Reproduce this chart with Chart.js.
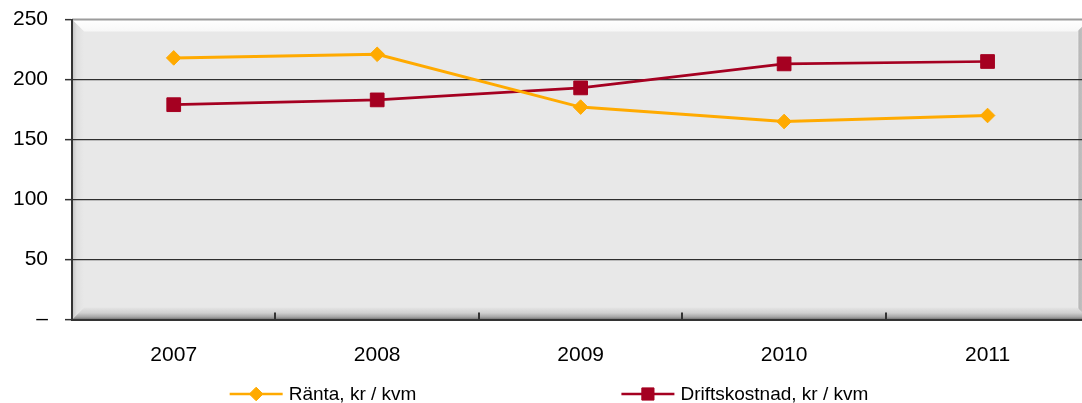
<!DOCTYPE html>
<html>
<head>
<meta charset="utf-8">
<script src="https://cdn.jsdelivr.net/npm/chart.js@4/dist/chart.umd.min.js"></script>
<style>
  html, body { margin: 0; padding: 0; background: #ffffff; overflow: hidden; }
  #wrap { width: 1082px; height: 403px; overflow: hidden; }
  canvas { display: block; }
</style>
</head>
<body>
<div id="wrap"><canvas id="chart" width="1100" height="403"></canvas></div>
<script>
// Years on the category axis
const years = ['2007', '2008', '2009', '2010', '2011'];
// Interest cost per square metre (kr / kvm)
const ranta = [218, 221, 177, 165, 170];
// Operating cost per square metre (kr / kvm)
const driftskostnad = [179, 183, 193, 213, 215];
// Value-axis ticks
const yTicks = [0, 50, 100, 150, 200, 250];
const seriesNames = ['Ränta, kr / kvm', 'Driftskostnad, kr / kvm'];

const FONT = "'Liberation Sans', Arial, Helvetica, sans-serif";

// Raised, bevelled panel behind the plot area
const bevelPanel = {
  id: 'bevelPanel',
  beforeDraw(chart) {
    const { ctx, chartArea: a } = chart;
    const L = a.left, R = a.right, T = a.top, B = a.bottom, b = 12;
    const poly = (pts, fill) => {
      ctx.beginPath();
      ctx.moveTo(pts[0][0], pts[0][1]);
      for (let i = 1; i < pts.length; i++) ctx.lineTo(pts[i][0], pts[i][1]);
      ctx.closePath();
      ctx.fillStyle = fill;
      ctx.fill();
    };
    ctx.save();
    ctx.fillStyle = '#e8e8e8';
    ctx.fillRect(L, T, R - L, B - T);

    let g = ctx.createLinearGradient(0, T, 0, T + b);
    g.addColorStop(0, '#ffffff');
    g.addColorStop(1, '#f7f7f7');
    poly([[L, T], [R, T], [R - b, T + b], [L + b, T + b]], g);

    g = ctx.createLinearGradient(0, B - b, 0, B);
    g.addColorStop(0, '#e4e4e4');
    g.addColorStop(0.45, '#d0d0d0');
    g.addColorStop(0.8, '#a4a4a4');
    g.addColorStop(1, '#6e6e6e');
    poly([[L, B], [R, B], [R - b, B - b], [L + b, B - b]], g);

    g = ctx.createLinearGradient(L, 0, L + b, 0);
    g.addColorStop(0, '#c2c2c2');
    g.addColorStop(0.4, '#e0e0e0');
    g.addColorStop(1, '#e8e8e8');
    poly([[L, T], [L + b, T + b], [L + b, B - b], [L, B]], g);

    g = ctx.createLinearGradient(R - b, 0, R, 0);
    g.addColorStop(0, '#f2f2f2');
    g.addColorStop(0.15, '#b8b8b8');
    g.addColorStop(1, '#d4d4d4');
    poly([[R, T], [R - b, T + b], [R - b, B - b], [R, B]], g);

    ctx.strokeStyle = '#9c9c9c';
    ctx.lineWidth = 2;
    ctx.beginPath();
    ctx.moveTo(L, T);
    ctx.lineTo(R, T);
    ctx.stroke();
    ctx.restore();
  }
};

// Short tick marks pointing up into the plot at the category boundaries
const innerTicks = {
  id: 'innerTicks',
  afterDatasetsDraw(chart) {
    const { ctx, scales: { x }, chartArea: a } = chart;
    const half = (x.getPixelForValue(1) - x.getPixelForValue(0)) / 2;
    ctx.save();
    ctx.strokeStyle = '#333333';
    ctx.lineWidth = 2;
    for (let i = 1; i < years.length; i++) {
      const px = Math.round(x.getPixelForValue(i) - half);
      ctx.beginPath();
      ctx.moveTo(px, a.bottom);
      ctx.lineTo(px, a.bottom - 7);
      ctx.stroke();
    }
    ctx.restore();
  }
};

// Legend row: line sample with marker, then the series name
const lineLegend = {
  id: 'lineLegend',
  afterDraw(chart) {
    const { ctx } = chart;
    const sample = 53, textGap = 6, itemGap = 205, y = 394, center = 549;
    ctx.save();
    ctx.font = '19px ' + FONT;
    ctx.textBaseline = 'middle';
    const items = chart.data.datasets.map(ds => ({
      ds, w: sample + textGap + ctx.measureText(ds.label).width
    }));
    const total = items.reduce((s, it) => s + it.w, 0) + itemGap * (items.length - 1);
    let x = center - total / 2;
    items.forEach(({ ds, w }) => {
      ctx.strokeStyle = ds.borderColor;
      ctx.lineWidth = 2.5;
      ctx.beginPath();
      ctx.moveTo(x, y);
      ctx.lineTo(x + sample, y);
      ctx.stroke();
      ctx.fillStyle = ds.pointBackgroundColor;
      ctx.strokeStyle = ds.pointBorderColor;
      ctx.lineWidth = 1;
      Chart.helpers.drawPoint(ctx, {
        pointStyle: ds.pointStyle,
        radius: ds.legendRadius,
        borderWidth: 1,
        rotation: 0
      }, x + sample / 2, y);
      ctx.fillStyle = '#000000';
      ctx.textAlign = 'left';
      ctx.fillText(ds.label, x + sample + textGap, y + 1);
      x += w + itemGap;
    });
    ctx.restore();
  }
};

new Chart(document.getElementById('chart'), {
  type: 'line',
  data: {
    labels: years,
    datasets: [
      {
        label: seriesNames[0],
        data: ranta,
        borderColor: '#ffaa00',
        backgroundColor: '#ffaa00',
        borderWidth: 3,
        pointStyle: 'rectRot',
        pointRadius: 7.3,
        pointHoverRadius: 7.3,
        pointBackgroundColor: '#ffaa00',
        pointBorderColor: '#ffaa00',
        pointBorderWidth: 1,
        legendRadius: 6.8,
        tension: 0
      },
      {
        label: seriesNames[1],
        data: driftskostnad,
        borderColor: '#a50021',
        backgroundColor: '#a50021',
        borderWidth: 2.75,
        pointStyle: 'rect',
        pointRadius: 9.7,
        pointHoverRadius: 9.7,
        pointBackgroundColor: '#a50021',
        pointBorderColor: '#a50021',
        pointBorderWidth: 1,
        legendRadius: 8.6,
        tension: 0
      }
    ]
  },
  options: {
    responsive: false,
    animation: false,
    devicePixelRatio: 1,
    layout: { padding: { top: 19.5, right: 8, left: 0, bottom: 0 } },
    plugins: {
      legend: { display: false },
      tooltip: { enabled: false }
    },
    scales: {
      x: {
        type: 'category',
        offset: true,
        grid: { display: false },
        border: { display: true, color: '#333333', width: 2 },
        ticks: {
          color: '#000000',
          font: { family: FONT, size: 21 },
          padding: 15,
          maxRotation: 0
        },
        afterFit(scale) { scale.height = 83.5; }
      },
      y: {
        min: 0,
        max: 250,
        afterBuildTicks(scale) { scale.ticks = yTicks.map(v => ({ value: v })); },
        grid: {
          color: ctx => (ctx.tick && (ctx.tick.value === 0 || ctx.tick.value === 250)) ? 'rgba(0,0,0,0)' : '#2e2e2e',
          lineWidth: 1.3,
          tickColor: '#333333',
          tickLength: 7,
          tickWidth: 1.5
        },
        border: { display: true, color: '#333333', width: 2 },
        ticks: {
          color: '#000000',
          font: { family: FONT, size: 21 },
          padding: 17,
          callback: v => (v === 0 ? '–' : String(v))
        },
        afterFit(scale) {
          scale.width = 72;
          scale.paddingTop = 0;
          scale.paddingBottom = 0;
        }
      }
    }
  },
  plugins: [bevelPanel, innerTicks, lineLegend]
});
</script>
</body>
</html>
